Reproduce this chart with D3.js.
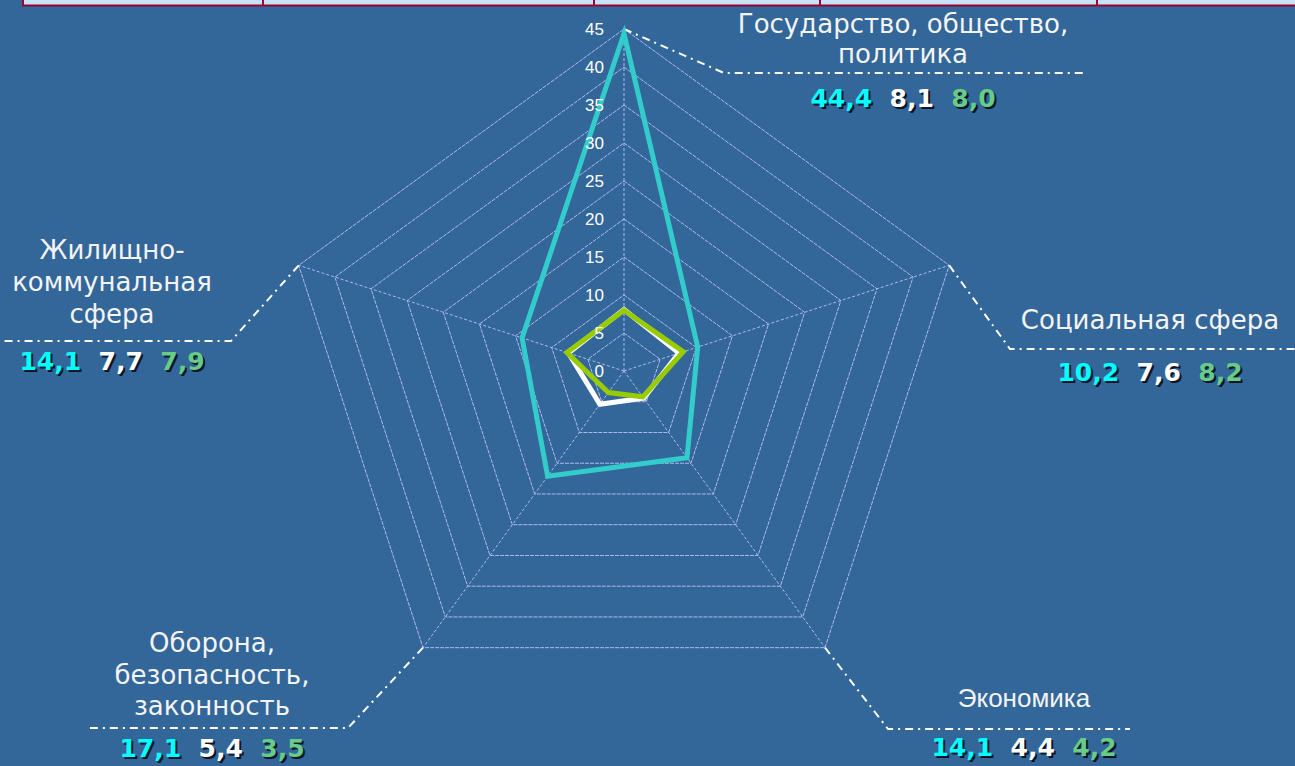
<!DOCTYPE html>
<html>
<head>
<meta charset="utf-8">
<script src="https://cdn.jsdelivr.net/npm/d3@7"></script>
<style>
  html, body { margin: 0; padding: 0; background: #336699; }
  svg { display: block; }
  text { white-space: pre; }
</style>
</head>
<body>
<div id="vis-container"></div>
<script>
// categories clockwise from the top
const categories = [
    ["Государство, общество,", "политика"],
    ["Социальная сфера"],
    ["Экономика"],
    ["Оборона,", "безопасность,", "законность"],
    ["Жилищно-", "коммунальная", "сфера"]
];

const seriesCyan  = [44.4, 10.2, 14.1, 17.1, 14.1];
const seriesWhite = [8.1, 7.6, 4.4, 5.4, 7.7];
const seriesGreen = [8.0, 8.2, 4.2, 3.5, 7.9];

const valueLabels = [
    ["44,4", "8,1", "8,0"],
    ["10,2", "7,6", "8,2"],
    ["14,1", "4,4", "4,2"],
    ["17,1", "5,4", "3,5"],
    ["14,1", "7,7", "7,9"]
];

const tickValues = [0, 5, 10, 15, 20, 25, 30, 35, 40, 45];

// layout only
const W = 1295, H = 766;
const cx = 624, cy = 371, R = 342;
const series = [
    {values: seriesCyan,  color: "#33cccc"},
    {values: seriesWhite, color: "#ffffff"},
    {values: seriesGreen, color: "#99cc00"}
];
const valueColors = ["#00ffff", "#ffffff", "#66cc88"];

// label boxes: x centre, baselines, leader bend, leader end
const labelLayout = [
    {x: 903,  lines: [33, 63],        vy: 107, bend: [724, 73],  end: 1087, font: "DejaVu Sans"},
    {x: 1150, lines: [329],           vy: 381, bend: [1010, 349], end: 1295, font: "DejaVu Sans"},
    {x: 1024, lines: [707],           vy: 756, bend: [888, 729], end: 1130, font: "Liberation Sans"},
    {x: 212,  lines: [652, 684, 715], vy: 757, bend: [348, 728], end: 90,   font: "DejaVu Sans"},
    {x: 112,  lines: [259, 291, 323], vy: 370, bend: [231, 341], end: 0,    font: "DejaVu Sans"}
];

const svg = d3.select("#vis-container")
    .append("svg")
    .attr("width", W)
    .attr("height", H);

svg.append("rect").attr("width", W).attr("height", H).attr("fill", "#336699");

// strip of a table at the top edge
const strip = svg.append("g");
strip.append("rect")
    .attr("x", 23).attr("y", -4)
    .attr("width", W).attr("height", 9.5)
    .attr("fill", "#c8e2f6")
    .attr("stroke", "#990033")
    .attr("stroke-width", 2);
[263, 594, 820, 1097].forEach(x => {
    strip.append("line")
        .attr("x1", x).attr("x2", x)
        .attr("y1", 0).attr("y2", 5)
        .attr("stroke", "#990033")
        .attr("stroke-width", 2);
});

const r = d3.scaleLinear().domain([0, 45]).range([0, R]);
const angle = i => i * 2 * Math.PI / categories.length;
const px = (i, v) => cx + r(v) * Math.sin(angle(i));
const py = (i, v) => cy - r(v) * Math.cos(angle(i));

const grid = svg.append("g");

// rings
grid.selectAll(".ring")
    .data(tickValues.filter(d => d > 0))
    .enter().append("polygon")
    .attr("class", "ring")
    .attr("points", t => categories.map((c, i) => px(i, t) + "," + py(i, t)).join(" "))
    .attr("fill", "none")
    .attr("stroke", "#b0baf0")
    .attr("stroke-width", 1)
    .attr("stroke-dasharray", "4,1");

// spokes
grid.selectAll(".spoke")
    .data(categories)
    .enter().append("line")
    .attr("class", "spoke")
    .attr("x1", cx).attr("y1", cy)
    .attr("x2", (d, i) => px(i, 45))
    .attr("y2", (d, i) => py(i, 45))
    .attr("stroke", "#b0baf0")
    .attr("stroke-width", 1)
    .attr("stroke-dasharray", "3,2");

// leader lines
svg.selectAll(".leader")
    .data(labelLayout)
    .enter().append("polyline")
    .attr("class", "leader")
    .attr("points", (d, i) => [
        [px(i, 45), py(i, 45)], d.bend, [d.end, d.bend[1]]
    ].map(p => p.join(",")).join(" "))
    .attr("fill", "none")
    .attr("stroke", "#ffffff")
    .attr("stroke-width", 2)
    .attr("stroke-dasharray", "8,5,2,5");

// series
const line = d3.line().curve(d3.curveLinearClosed);
svg.selectAll(".series")
    .data(series)
    .enter().append("path")
    .attr("class", "series")
    .attr("d", s => line(s.values.map((v, i) => [px(i, v), py(i, v)])))
    .attr("fill", "none")
    .attr("stroke", s => s.color)
    .attr("stroke-width", 5)
    .attr("stroke-linejoin", "miter");

// tick labels, drawn over the lines
svg.selectAll(".tick")
    .data(tickValues)
    .enter().append("text")
    .attr("class", "tick")
    .attr("x", cx - 20)
    .attr("y", d => cy - r(d))
    .attr("dy", "0.35em")
    .attr("text-anchor", "end")
    .attr("font-family", "Liberation Sans, Arial, sans-serif")
    .attr("font-size", 17)
    .attr("fill", "#ffffff")
    .text(d => d);

// category labels
const labels = svg.selectAll(".cat")
    .data(categories)
    .enter().append("g")
    .attr("class", "cat");

labels.each(function(lines, i) {
    const lay = labelLayout[i];
    const g = d3.select(this);
    lines.forEach((t, k) => {
        g.append("text")
            .attr("x", lay.x)
            .attr("y", lay.lines[k])
            .attr("text-anchor", "middle")
            .attr("font-family", lay.font + ", sans-serif")
            .attr("font-size", 26)
            .attr("fill", "#f4f4f4")
            .text(t);
    });

    // values with a dark shadow
    [{dx: 2, dy: 2, shadow: true}, {dx: 0, dy: 0, shadow: false}].forEach(pass => {
        const txt = g.append("text")
            .attr("x", lay.x + pass.dx)
            .attr("y", lay.vy + pass.dy)
            .attr("text-anchor", "middle")
            .attr("font-family", "DejaVu Sans, Verdana, sans-serif")
            .attr("font-weight", "bold")
            .attr("font-size", 25);
        valueLabels[i].forEach((v, k) => {
            txt.append("tspan")
                .attr("fill", pass.shadow ? "#0a1628" : valueColors[k])
                .text((k ? "  " : "") + v);
        });
    });
});
</script>
</body>
</html>
